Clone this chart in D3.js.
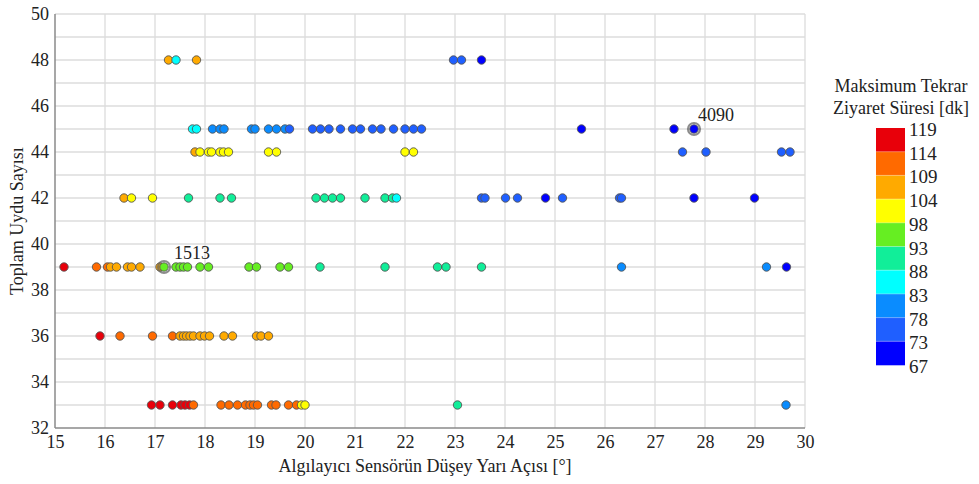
<!DOCTYPE html>
<html>
<head>
<meta charset="utf-8">
<script src="https://cdn.jsdelivr.net/npm/d3@7"></script>
<style>
  body { margin: 0; background: #fff; }
  svg text { font-family: "Liberation Serif", "Times New Roman", Times, "DejaVu Serif", serif !important; }
  .grid line { stroke: #dcdcdc; stroke-width: 1.3; }
  .axis path { stroke: #8a8a8a; stroke-width: 1.5; }
  .axis text { font-size: 18px; fill: #222; }
</style>
</head>
<body>
<div id="chart"></div>
<script>
// Sensor half angle [deg], total satellites, max revisit time [min]
const angle = [
  // 48
  17.27, 17.42, 17.83, 22.97, 23.13, 23.53,
  // 45
  17.75, 17.83, 18.15, 18.3, 18.38, 18.93, 19.0, 19.27, 19.43, 19.6, 19.69,
  20.15, 20.31, 20.48, 20.71, 20.95, 21.11, 21.35, 21.52, 21.77, 22.0, 22.17, 22.33,
  25.53, 27.38, 27.78,
  // 44
  17.8, 17.9, 18.07, 18.13, 18.3, 18.37, 18.47, 19.27, 19.43, 22.0, 22.17,
  27.55, 28.02, 29.53, 29.7,
  // 42
  16.38, 16.53, 16.95, 17.67, 18.3, 18.53, 20.22, 20.39, 20.55, 20.71, 21.2, 21.6, 21.75, 21.83,
  23.53, 23.6, 24.01, 24.25, 24.81, 25.15, 26.29, 26.33, 27.78, 28.99,
  // 39
  15.18, 15.83, 16.05, 16.11, 16.23, 16.45, 16.53, 16.7, 17.1, 17.18, 17.42, 17.5, 17.57, 17.65,
  17.9, 18.07, 18.88, 19.03, 19.5, 19.67, 20.3, 21.6, 22.65, 22.82, 23.53, 26.33, 29.23, 29.63,
  // 36
  15.9, 16.3, 16.95, 17.35, 17.5, 17.57, 17.63, 17.7, 17.77, 17.9, 17.99, 18.09, 18.38, 18.55,
  19.03, 19.12, 19.27,
  // 33
  16.93, 17.1, 17.35, 17.52, 17.6, 17.69, 17.77, 18.32, 18.48, 18.65, 18.81, 18.9, 18.97, 19.05,
  19.33, 19.42, 19.67, 19.83, 19.93, 20.0, 23.05, 29.62
]
const sats = [
  48, 48, 48, 48, 48, 48,
  45, 45, 45, 45, 45, 45, 45, 45, 45, 45, 45,
  45, 45, 45, 45, 45, 45, 45, 45, 45, 45, 45, 45,
  45, 45, 45,
  44, 44, 44, 44, 44, 44, 44, 44, 44, 44, 44,
  44, 44, 44, 44,
  42, 42, 42, 42, 42, 42, 42, 42, 42, 42, 42, 42, 42, 42,
  42, 42, 42, 42, 42, 42, 42, 42, 42, 42,
  39, 39, 39, 39, 39, 39, 39, 39, 39, 39, 39, 39, 39, 39,
  39, 39, 39, 39, 39, 39, 39, 39, 39, 39, 39, 39, 39, 39,
  36, 36, 36, 36, 36, 36, 36, 36, 36, 36, 36, 36, 36, 36,
  36, 36, 36,
  33, 33, 33, 33, 33, 33, 33, 33, 33, 33, 33, 33, 33, 33,
  33, 33, 33, 33, 33, 33, 33, 33
]
const revisit = [
  106, 85, 106, 75, 75, 70,
  85, 85, 80, 80, 80, 80, 80, 80, 80, 80, 77,
  75, 75, 75, 75, 75, 75, 75, 75, 75, 75, 75, 75,
  70, 70, 70,
  106, 101, 101, 101, 101, 101, 101, 101, 101, 101, 101,
  75, 75, 75, 75,
  106, 101, 101, 90, 90, 90, 90, 90, 90, 90, 90, 90, 90, 85,
  75, 75, 74, 74, 70, 75, 75, 75, 70, 70,
  116, 111, 111, 107, 106, 106, 106, 106, 106, 95, 95, 95, 95, 95,
  95, 95, 95, 95, 95, 95, 90, 90, 90, 90, 90, 80, 80, 70,
  116, 111, 111, 111, 106, 106, 106, 106, 106, 106, 106, 106, 106, 106,
  106, 106, 106,
  116, 116, 116, 116, 116, 116, 111, 111, 111, 111, 111, 111, 111, 111,
  111, 111, 111, 111, 101, 101, 90, 80
]

// highlighted solutions
const markAngle = [17.18, 27.78]
const markSats = [39, 45]
const markText = ["1513", "4090"]

// colour bar
const bandEdges = [119, 114, 109, 104, 98, 93, 88, 83, 78, 73, 67]
const bandColours = ["#e8000a", "#ff6a00", "#ffaa00", "#ffff00", "#66ee22",
                     "#11ee99", "#00ffff", "#0a8cff", "#1f5fff", "#0000ff"]

const xTicks = d3.range(15, 31, 1)
const yTicks = d3.range(32, 51, 2)

const width = 979, height = 484
const svg = d3.select("#chart").append("svg")
    .attr("width", width).attr("height", height)

const x = d3.scaleLinear().domain([15, 30]).range([55, 805])
const y = d3.scaleLinear().domain([32, 50]).range([428, 14])

// thresholds go upward, so colours reversed
const colour = d3.scaleThreshold()
    .domain(bandEdges.slice(1, 10).reverse())
    .range(bandColours.slice().reverse())

// grid
const grid = svg.append("g").attr("class", "grid")
grid.selectAll("line.v").data(d3.range(16, 31, 1)).join("line")
    .attr("x1", d => x(d)).attr("x2", d => x(d))
    .attr("y1", y(32)).attr("y2", y(50))
grid.selectAll("line.h").data(d3.range(33, 51, 1)).join("line")
    .attr("x1", x(15)).attr("x2", x(30))
    .attr("y1", d => y(d)).attr("y2", d => y(d))

// axes
svg.append("g").attr("class", "axis")
    .attr("transform", `translate(0,${y(32)})`)
    .call(d3.axisBottom(x).tickValues(xTicks).tickSize(0).tickPadding(7).tickFormat(d3.format("d")))
    .call(g => g.select(".domain").attr("d", `M${x(15)},0H${x(30)}`))

svg.append("g").attr("class", "axis")
    .attr("transform", `translate(${x(15)},0)`)
    .call(d3.axisLeft(y).tickValues(yTicks).tickSize(0).tickPadding(6).tickFormat(d3.format("d")))
    .call(g => g.select(".domain").attr("d", `M0,${y(32)}V${y(50)}`))

// axis titles
svg.append("text")
    .attr("x", x(22.5) - 5).attr("y", 472)
    .attr("text-anchor", "middle").attr("font-size", 18).attr("fill", "#222")
    .text("Algılayıcı Sensörün Düşey Yarı Açısı [°]")

svg.append("text")
    .attr("transform", `translate(23,${y(41)}) rotate(-90)`)
    .attr("text-anchor", "middle").attr("font-size", 18).attr("fill", "#222")
    .text("Toplam Uydu Sayısı")

// points
const idx = d3.range(angle.length)
svg.append("g").selectAll("circle").data(idx).join("circle")
    .attr("cx", i => x(angle[i]))
    .attr("cy", i => y(sats[i]))
    .attr("r", 4.2)
    .style("fill", i => colour(revisit[i]))
    .style("stroke", "#555")
    .style("stroke-width", 0.9)

// highlighted points and labels
markAngle.forEach((a, k) => {
    svg.append("circle")
        .attr("cx", x(a)).attr("cy", y(markSats[k]))
        .attr("r", 6)
        .style("fill", "none")
        .style("stroke", "#666")
        .style("stroke-width", 2.2)
        .style("opacity", 0.75)
    svg.append("text")
        .attr("x", x(a) + (k == 0 ? 28 : 4)).attr("y", y(markSats[k]) - 8)
        .attr("text-anchor", k == 0 ? "middle" : "start")
        .attr("font-size", 18).attr("fill", "#222")
        .text(markText[k])
})

// legend
const lg = svg.append("g")
lg.append("text").attr("x", 901).attr("y", 92).attr("text-anchor", "middle")
    .attr("font-size", 18).attr("fill", "#222").text("Maksimum Tekrar")
lg.append("text").attr("x", 901).attr("y", 114).attr("text-anchor", "middle")
    .attr("font-size", 18).attr("fill", "#222").text("Ziyaret Süresi [dk]")

const bar = d3.scaleLinear().domain([0, 10]).range([128, 365])
lg.selectAll("rect").data(bandColours).join("rect")
    .attr("x", 876).attr("width", 29)
    .attr("y", (d, i) => bar(i)).attr("height", bar(1) - bar(0) + 0.3)
    .style("fill", d => d)
lg.selectAll("line").data(d3.range(1, 10)).join("line")
    .attr("x1", 876).attr("x2", 905)
    .attr("y1", d => bar(d)).attr("y2", d => bar(d))
    .style("stroke", "#ffffff").style("stroke-opacity", 0.35)
lg.selectAll("text.lab").data(bandEdges).join("text")
    .attr("class", "lab")
    .attr("x", 909).attr("y", (d, i) => bar(i) + 8)
    .attr("font-size", 19).attr("fill", "#222")
    .text(d => d)
</script>
</body>
</html>
